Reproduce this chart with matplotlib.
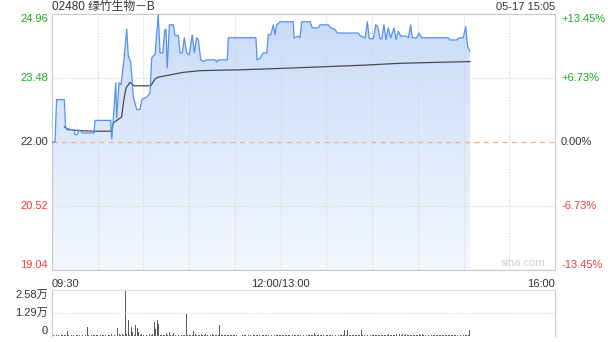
import matplotlib
matplotlib.use('Agg')
import matplotlib.pyplot as plt
import numpy as np
from matplotlib.colors import LinearSegmentedColormap

plt.rcParams['font.family'] = ['Liberation Sans', 'Noto Sans CJK SC', 'DejaVu Sans']

# --- data (minutes since 09:30, lunch break removed) ---
title = '02480 绿竹生物－B'
stamp = '05-17 15:05'
prev_close = 22.00
price_ticks = [24.96, 23.48, 22.00, 20.52, 19.04]
pct_labels = ['+13.45%', '+6.73%', '0.00%', '-6.73%', '-13.45%']
time_labels = ['09:30', '12:00/13:00', '16:00']
time_label_pos = [0, 150, 330]
vol_ticks = [25800, 12900, 0]
vol_labels = ['2.58万', '1.29万', '0']

price_min = [0.0, 2.0, 3.0, 8.1, 8.9, 9.8, 14.4, 15.1, 16.7, 17.7, 20.3, 27.6, 28.2, 38.5,
             39.2, 40.2, 41.8, 42.4, 44.0, 45.3, 47.2, 49.0, 50.1, 51.6, 53.3, 55.6, 57.7,
             58.9, 62.1, 64.3, 65.4, 66.1, 67.6, 69.7, 70.9, 72.6, 74.1, 74.8, 75.6, 77.0,
             79.6, 80.7, 82.9, 84.0, 85.5, 86.8, 88.4, 90.1, 92.0, 93.4, 94.9, 96.0, 97.6,
             99.3, 101.5, 106.9, 108.1, 109.1, 115.0, 115.7, 133.8, 134.5, 136.5, 138.6,
             140.9, 141.9, 143.5, 145.2, 146.3, 147.4, 149.6, 158.3, 158.8, 161.6, 162.7,
             163.8, 169.3, 170.8, 174.7, 175.8, 181.3, 182.9, 185.7, 187.2, 201.0, 202.1,
             205.4, 206.9, 208.2, 210.8, 212.4, 213.7, 215.2, 216.3, 217.8, 219.1, 220.6,
             222.2, 224.4, 225.7, 227.2, 228.8, 232.3, 233.8, 235.3, 236.4, 239.3, 240.8,
             242.6, 260.0, 261.1, 265.5, 267.2, 269.8, 271.4, 272.7, 274.2]
price = [22.00, 22.00, 22.98, 22.98, 22.35, 22.28, 22.28, 22.17, 22.17, 22.28, 22.21, 22.21,
         22.50, 22.50, 22.07, 22.50, 23.37, 22.56, 23.37, 23.33, 23.90, 24.61, 23.98, 23.86,
         23.05, 22.75, 22.75, 22.98, 23.04, 23.13, 23.94, 23.98, 24.02, 24.94, 24.06, 24.06,
         24.60, 24.60, 23.71, 24.71, 24.71, 24.46, 24.46, 24.06, 24.06, 24.41, 24.06, 24.02,
         24.48, 24.06, 24.41, 24.37, 23.90, 23.86, 23.90, 23.90, 23.85, 23.90, 23.90, 24.41,
         24.41, 23.90, 23.94, 24.06, 24.06, 24.48, 24.48, 24.71, 24.48, 24.71, 24.78, 24.78,
         24.41, 24.45, 24.41, 24.78, 24.78, 24.64, 24.64, 24.71, 24.71, 24.64, 24.60, 24.52,
         24.52, 24.46, 24.41, 24.78, 24.39, 24.39, 24.71, 24.67, 24.39, 24.39, 24.71, 24.37,
         24.64, 24.41, 24.64, 24.37, 24.56, 24.45, 24.45, 24.41, 24.71, 24.41, 24.41, 24.52,
         24.41, 24.41, 24.36, 24.36, 24.41, 24.41, 24.67, 24.21, 24.10]

avg_min = [8.1, 10.5, 15.1, 26.9, 38.7, 40.2, 43.3, 45.7, 47.2, 48.6, 51.2, 53.8, 64.8, 67.6,
           69.7, 86.1, 97.1, 123.3, 140.9, 156.1, 171.4, 206.5, 228.3, 250.2, 274.2]
avg_price = [22.35, 22.30, 22.27, 22.25, 22.25, 22.44, 22.52, 22.58, 23.00, 23.25, 23.38,
             23.30, 23.30, 23.46, 23.50, 23.61, 23.65, 23.67, 23.69, 23.71, 23.73, 23.78,
             23.82, 23.84, 23.86]

# volume per minute, 09:30 onwards (one row = 30 minutes)
volume = [
    600, 300, 200, 400, 300, 200, 300, 500, 400, 300, 2800, 300, 200, 400, 300,
    200, 300, 400, 300, 200, 500, 300, 400, 4800, 300, 200, 300, 400, 300, 600,
    300, 200, 400, 300, 500, 300, 200, 400, 600, 1200, 800, 700, 4000, 4600, 900,
    600, 1400, 700, 25800, 1100, 9200, 800, 5200, 2400, 700, 5900, 4600, 2500, 600, 900,
    500, 400, 700, 600, 900, 500, 1200, 8000, 4000, 9000, 6700, 800, 600, 500, 700,
    1500, 600, 2000, 500, 700, 1700, 600, 400, 500, 700, 600, 400, 500, 12500, 800,
    600, 500, 700, 2800, 900, 500, 400, 600, 1000, 700, 500, 900, 600, 400, 800,
    1000, 600, 500, 700, 400, 5900, 600, 500, 300, 400, 500, 300, 400, 300, 500,
    300, 400, 300, 200, 400, 300, 500, 300, 200, 400, 300, 200, 300, 400, 300,
    500, 300, 200, 400, 300, 300, 600, 400, 3200, 700, 400, 300, 500, 300, 400,
    800, 400, 300, 500, 300, 400, 300, 200, 400, 300, 500, 300, 400, 300, 200,
    400, 300, 500, 300, 400, 300, 600, 1800, 400, 300, 500, 300, 400, 300, 200,
    400, 300, 500, 300, 400, 600, 300, 2400, 500, 300, 400, 600, 3500, 500, 3500,
    400, 300, 500, 400, 300, 600, 400, 300, 3600, 500, 400, 300, 500, 300, 400,
    300, 500, 400, 300, 600, 400, 300, 500, 400, 700, 500, 900, 600, 400, 800,
    500, 1000, 600, 900, 500, 1200, 700, 900, 500, 800, 600, 400, 700, 500, 300,
    600, 1100, 700, 900, 500, 400, 600, 300, 500, 400, 300, 500, 400, 300, 400,
    600, 300, 500, 400, 300, 500, 400, 300, 400, 500, 300, 400, 600, 300, 500,
    400, 600, 500, 800, 3300,
]

GREEN = '#1ea81e'
RED = '#f23c3c'
DARK = '#333333'
GRID = '#d4d4d4'
FRAME = '#c8c8c8'

W, H = 608, 342
fig = plt.figure(figsize=(W / 100, H / 100), dpi=100)


def box(l, t, r, b):
    return [l / W, 1 - b / H, (r - l) / W, (b - t) / H]


ax = fig.add_axes(box(52, 14, 555, 270))
ax.set_xlim(0, 330)
ax.set_ylim(price_ticks[-1], price_ticks[0])

# gradient fill under the price line
cmap = LinearSegmentedColormap.from_list('fill', ['#f4f8fe', '#c8dbf9'])
grad = np.linspace(0, 1, 256).reshape(-1, 1)
fill = ax.fill_between(price_min, price, price_ticks[-1], color='none', lw=0)
img = ax.imshow(grad, extent=[0, 330, price_ticks[-1], price_ticks[0]], origin='lower',
                aspect='auto', cmap=cmap, zorder=1)
img.set_clip_path(fill.get_paths()[0], transform=ax.transData)

for m in range(30, 330, 30):
    ax.axvline(m, color=GRID, lw=0.8, ls=(0, (1, 1.5)), zorder=2)
for v in (price_ticks[1], price_ticks[3]):
    ax.axhline(v, color=GRID, lw=0.8, ls=(0, (1, 1.5)), zorder=2)
ax.axhline(prev_close, color='#f6ad85', lw=0.9, dashes=(4, 3.5), zorder=2)

ax.plot(avg_min, avg_price, color='#4a4a4a', lw=0.9, zorder=3)
ax.plot(price_min, price, color='#5790ee', lw=0.9, zorder=4)

ax.set_xticks([])
ax.set_yticks([])
for s in ax.spines.values():
    s.set_color(FRAME)
    s.set_linewidth(0.8)

colors = [GREEN, GREEN, DARK, RED, RED]
vas = ['top', 'center', 'center', 'center', 'bottom']
for v, lab, c, va in zip(price_ticks, pct_labels, colors, vas):
    ax.text(-0.008, v, f'{v:.2f}', transform=ax.get_yaxis_transform(), ha='right', va=va,
            color=c, fontsize=8)
    ax.text(1.012, v, lab, transform=ax.get_yaxis_transform(), ha='left', va=va,
            color=c, fontsize=8)

has = ['left', 'center', 'right']
for pos, lab, ha in zip(time_label_pos, time_labels, has):
    ax.text(pos, -0.035, lab, transform=ax.get_xaxis_transform(), ha=ha, va='top',
            color=DARK, fontsize=8)

ax.text(0.98, 0.008, 'sina.com', transform=ax.transAxes, ha='right', va='bottom',
        color='#cfcfcf', fontsize=8)

fig.text(52 / W, 1 - 7 / H, title, ha='left', va='center', color=DARK, fontsize=8.5,
         family=['Liberation Sans', 'Noto Sans CJK SC'])
fig.text(555 / W, 1 - 7 / H, stamp, ha='right', va='center', color=DARK, fontsize=8)

# volume panel
vx = fig.add_axes(box(52, 290, 555, 336))
vx.set_xlim(0, 330)
vx.set_ylim(0, vol_ticks[0])
vx.bar(np.arange(len(volume)), volume, width=0.6, color='#5a5a5a', lw=0, clip_on=False)
vx.axhline(vol_ticks[1], color=GRID, lw=0.8, ls=(0, (1, 1.5)))
vx.set_xticks([])
vx.set_yticks([])
for k in ('left', 'right'):
    vx.spines[k].set_color(FRAME)
    vx.spines[k].set_linewidth(0.8)
vx.spines['top'].set_color(GRID)
vx.spines['top'].set_linewidth(0.8)
vx.spines['top'].set_linestyle((0, (1, 1.5)))
vx.spines['bottom'].set_visible(False)
vvas = ['top', 'center', 'bottom']
for v, lab, va in zip(vol_ticks, vol_labels, vvas):
    vx.text(-0.008, v, lab, transform=vx.get_yaxis_transform(), ha='right', va=va,
            color=DARK, fontsize=8)

fig.savefig('out.png', dpi=100, facecolor='white')
